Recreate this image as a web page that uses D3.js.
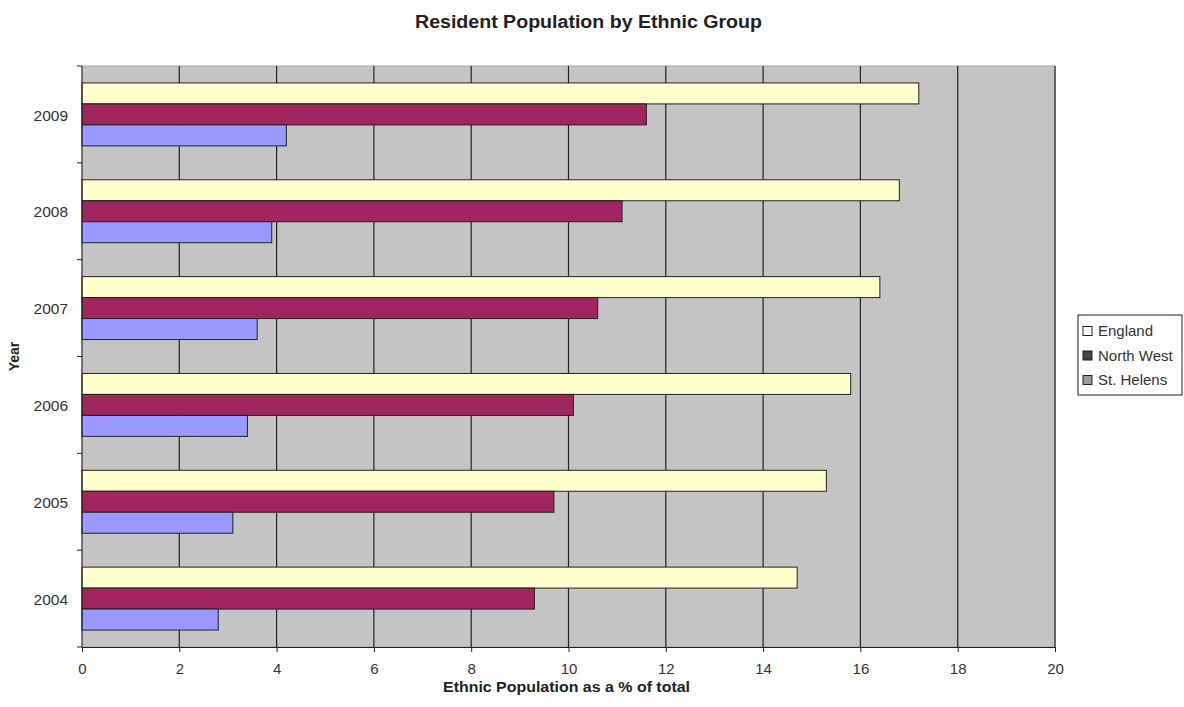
<!DOCTYPE html>
<html>
<head>
<meta charset="utf-8">
<script src="https://cdn.jsdelivr.net/npm/d3@7/dist/d3.min.js"></script>
<style>
  body { margin: 0; background: #fff; }
  svg { display: block; }
</style>
</head>
<body>
<svg id="chart" width="1184" height="707"></svg>
<script>
// Years listed top-to-bottom on the axis (2004 at the bottom)
const years = ["2009", "2008", "2007", "2006", "2005", "2004"];
const seriesNames = ["England", "North West", "St. Helens"];
const england   = [17.2, 16.8, 16.4, 15.8, 15.3, 14.7];
const northWest = [11.6, 11.1, 10.6, 10.1, 9.7, 9.3];
const stHelens  = [4.2, 3.9, 3.6, 3.4, 3.1, 2.8];
const xTicks = [0, 2, 4, 6, 8, 10, 12, 14, 16, 18, 20];

const barColors = ["#ffffcc", "#a1255f", "#9999ff"];
const legendSwatches = ["#ffffff", "#444444", "#9a9a9a"];

const FONT = "'Liberation Sans', Arial, sans-serif";
const svg = d3.select("#chart");
const plot = { left: 82, right: 1055, top: 66, bottom: 647 };

const x = d3.scaleLinear().domain([0, 20]).range([plot.left, plot.right]);
const y = d3.scaleBand().domain(years).range([plot.top, plot.bottom]).paddingInner(0.35).paddingOuter(0.175);
const inner = d3.scaleBand().domain(seriesNames).range([0, y.bandwidth()]);

// plot area background
svg.append("rect")
  .attr("x", plot.left).attr("y", plot.top)
  .attr("width", plot.right - plot.left).attr("height", plot.bottom - plot.top)
  .attr("fill", "#c4c4c4").attr("stroke", "#a8a8a8");

// vertical gridlines
svg.append("g").selectAll("line").data(xTicks.slice(1)).join("line")
  .attr("x1", d => x(d)).attr("x2", d => x(d))
  .attr("y1", plot.top).attr("y2", plot.bottom)
  .attr("stroke", "#222").attr("stroke-width", 1.2);

// bars
const rows = years.map((yr, i) => ({ year: yr, values: [england[i], northWest[i], stHelens[i]] }));
const groups = svg.append("g").selectAll("g").data(rows).join("g")
  .attr("transform", d => `translate(0,${y(d.year)})`);
groups.selectAll("rect").data(d => d.values.map((v, k) => ({ v, k }))).join("rect")
  .attr("x", x(0))
  .attr("y", d => inner(seriesNames[d.k]))
  .attr("width", d => x(d.v) - x(0))
  .attr("height", inner.bandwidth())
  .attr("fill", d => barColors[d.k])
  .attr("stroke", "#222").attr("stroke-width", 1);

// x axis
const xAxis = svg.append("g")
  .attr("transform", `translate(0,${plot.bottom})`)
  .call(d3.axisBottom(x).tickValues(xTicks).tickSize(5).tickPadding(11).tickSizeOuter(0));
xAxis.select(".domain").attr("stroke", "#222");
xAxis.selectAll(".tick line").attr("stroke", "#222");
xAxis.selectAll("text")
  .attr("font-family", FONT)
  .attr("font-size", 15).attr("fill", "#333");

// y axis: ticks at category boundaries, labels centred in each band
const yAxisG = svg.append("g").attr("transform", `translate(${plot.left},0)`);
yAxisG.append("line")
  .attr("x1", 0).attr("x2", 0).attr("y1", plot.top).attr("y2", plot.bottom)
  .attr("stroke", "#222");
const step = (plot.bottom - plot.top) / years.length;
yAxisG.selectAll("line.tk").data(d3.range(years.length + 1)).join("line")
  .attr("class", "tk")
  .attr("x1", -5).attr("x2", 0)
  .attr("y1", i => plot.top + i * step).attr("y2", i => plot.top + i * step)
  .attr("stroke", "#222");
yAxisG.selectAll("text").data(years).join("text")
  .attr("x", -14)
  .attr("y", d => y(d) + y.bandwidth() / 2)
  .attr("dy", "0.4em")
  .attr("text-anchor", "end")
  .attr("font-family", FONT)
  .attr("font-size", 15.5).attr("fill", "#333")
  .text(d => d);

// title
svg.append("text")
  .attr("x", 415).attr("y", 28)
  .attr("textLength", 347).attr("lengthAdjust", "spacingAndGlyphs")
  .attr("font-family", FONT)
  .attr("font-weight", "bold").attr("font-size", 17.5).attr("fill", "#222")
  .text("Resident Population by Ethnic Group");

// axis titles
svg.append("text")
  .attr("x", 443).attr("y", 692)
  .attr("textLength", 247).attr("lengthAdjust", "spacingAndGlyphs")
  .attr("font-family", FONT)
  .attr("font-weight", "bold").attr("font-size", 14.5).attr("fill", "#222")
  .text("Ethnic Population as a % of total");

svg.append("text")
  .attr("transform", `translate(19,${(plot.top + plot.bottom) / 2}) rotate(-90)`)
  .attr("text-anchor", "middle")
  .attr("font-family", FONT)
  .attr("font-weight", "bold").attr("font-size", 14).attr("fill", "#222")
  .text("Year");

// legend
const legend = svg.append("g").attr("transform", "translate(1078,315)");
legend.append("rect")
  .attr("x", 0).attr("y", 0).attr("width", 104).attr("height", 80)
  .attr("fill", "#fff").attr("stroke", "#222");
const items = legend.selectAll("g").data(seriesNames).join("g")
  .attr("transform", (d, i) => `translate(5,${16 + i * 24.5})`);
items.append("rect")
  .attr("x", 0).attr("y", -4.5).attr("width", 9).attr("height", 9)
  .attr("fill", (d, i) => legendSwatches[i]).attr("stroke", "#222");
items.append("text")
  .attr("x", 15).attr("dy", "0.36em")
  .attr("font-family", FONT)
  .attr("font-size", 15).attr("fill", "#333")
  .text(d => d);
</script>
</body>
</html>
